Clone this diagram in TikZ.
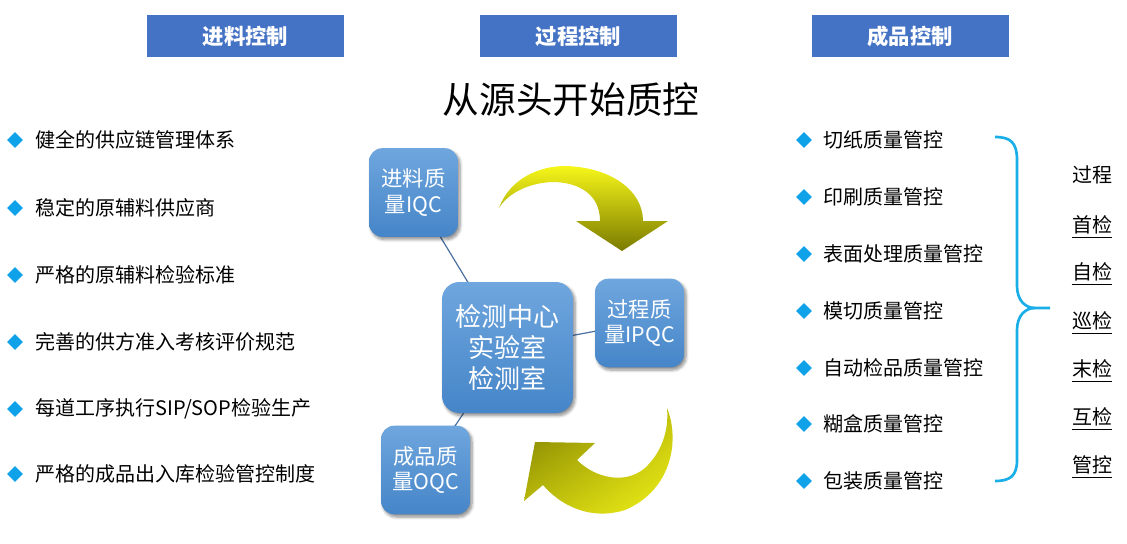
\documentclass[tikz,border=0pt]{standalone}
\usepackage{fontspec}
\setmainfont{Noto Sans CJK SC}
\usetikzlibrary{shapes.geometric,shadows.blur,shadings}
\definecolor{hdr}{HTML}{4472C4}
\definecolor{boxtop}{HTML}{6FA6DE}
\definecolor{boxbot}{HTML}{4585C8}
\definecolor{linkc}{HTML}{4A70A0}
\definecolor{bul}{HTML}{10A2E8}
\definecolor{brc}{HTML}{1AAEE8}
\definecolor{ylw}{HTML}{F6F61A}
\definecolor{olv}{HTML}{7A7A00}
\definecolor{ymid}{HTML}{C4C40C}
\tikzset{
  hdrbox/.style={fill=hdr, text=white, font=\fontsize{16pt}{19pt}\selectfont\bfseries,
    minimum width=147.75pt, minimum height=31.5pt, inner sep=0pt},
  qbox/.style={rounded corners=10pt, top color=boxtop, bottom color=boxbot,
    text=white, align=center, inner sep=0pt,
    blur shadow={shadow xshift=1.5pt, shadow yshift=-2pt, shadow blur steps=6, shadow opacity=45},
    font=\fontsize{16pt}{19pt}\selectfont, minimum width=66.75pt, minimum height=66.5pt},
  link/.style={draw=linkc, line width=0.9pt},
  bullet/.style={diamond, fill=bul, inner sep=0pt, minimum width=12pt, minimum height=12pt},
  itemtxt/.style={anchor=west, inner sep=0pt, font=\fontsize{15pt}{18pt}\selectfont},
  chk/.style={inner sep=0pt, font=\fontsize{15pt}{18pt}\selectfont},
}
\begin{document}
\begin{tikzpicture}[x=0.75pt,y=-0.75pt]
\useasboundingbox (0,0) rectangle (1127,543);
% headers
\node[hdrbox] (h1) at (245.5,36) {进料控制};
\node[hdrbox] (h2) at (578.5,36) {过程控制};
\node[hdrbox] (h3) at (910,36) {成品控制};
% title
\node[inner sep=0pt, font=\fontsize{27.5pt}{30pt}\selectfont] (title) at (571,100) {从源头开始质控};
% left list
\foreach \i/\y/\t in {1/140/{健全的供应链管理体系}, 2/208/{稳定的原辅料供应商}, 3/275/{严格的原辅料检验标准}, 4/342/{完善的供方准入考核评价规范}, 5/409/{每道工序执行SIP/SOP检验生产}, 6/474/{严格的成品出入库检验管控制度}}{
  \node[bullet] (lb\i) at (15,\y) {};
  \node[itemtxt] (lt\i) at (35,\y) {\t};
}
% right list
\foreach \i/\y/\t in {1/140/切纸质量管控, 2/197/印刷质量管控, 3/254/表面处理质量管控, 4/311/模切质量管控, 5/368/自动检品质量管控, 6/424/糊盒质量管控, 7/481/包装质量管控}{
  \node[bullet] (rb\i) at (804,\y) {};
  \node[itemtxt] (rt\i) at (823,\y) {\t};
}
% brace
\draw[brc, line width=2pt] (995,137) .. controls (1010,137) and (1017,142) .. (1017,160)
  -- (1017,286) .. controls (1017,300) and (1025,308) .. (1035,308) -- (1050,308);
\draw[brc, line width=2pt] (1035,308) .. controls (1025,308) and (1017,316) .. (1017,330)
  -- (1017,460) .. controls (1017,476) and (1010,481) .. (995,481);
% right checks
\node[chk] (c0) at (1092,175) {过程};
\foreach \i/\y/\t in {1/225/首检, 2/272/自检, 3/321/巡检, 4/369/末检, 5/417/互检, 6/465/管控}{
  \node[chk] (c\i) at (1092,\y) {\t};
  \draw[line width=0.8pt] ([yshift=-2.5pt]c\i.south west) -- ([yshift=-2.5pt]c\i.south east);
}
% yellow arrows
\shade[top color=ylw, bottom color=olv]
  (499,208) .. controls (510,178) and (540,166) .. (565,166)
  .. controls (610,167) and (643,190) .. (643,221)
  -- (668,221) -- (622,251) -- (576,221) -- (600,221)
  .. controls (600,195) and (580,183) .. (555,182)
  .. controls (530,182) and (508,193) .. cycle;
\shade[upper left=olv, lower right=ylw, upper right=ymid, lower left=ymid]
  (667,408) .. controls (680,440) and (672,490) .. (625,510)
  .. controls (590,521) and (560,505) .. (543,485)
  -- (524,501) -- (535,442) -- (595,443) -- (577,460)
  .. controls (595,478) and (625,485) .. (645,468)
  .. controls (662,452) and (669,430) .. cycle;
% boxes
\coordinate (cc) at (507.5,347.5);
\coordinate (iqcc) at (413.5,192.5);
\coordinate (ipqcc) at (639.5,323);
\coordinate (oqcc) at (425.5,470);
\draw[link] (iqcc) -- (cc);
\draw[link] (ipqcc) -- (cc);
\draw[link] (oqcc) -- (cc);
\node[qbox] (iqc) at (iqcc) {进料质\\量IQC};
\node[qbox] (ipqc) at (ipqcc) {过程质\\量IPQC};
\node[qbox] (oqc) at (oqcc) {成品质\\量OQC};
\node[qbox, minimum width=98.25pt, minimum height=98.25pt, rounded corners=13pt,
  font=\fontsize{19.5pt}{23pt}\selectfont] (center) at (cc) {检测中心\\实验室\\检测室};
\end{tikzpicture}
\end{document}
